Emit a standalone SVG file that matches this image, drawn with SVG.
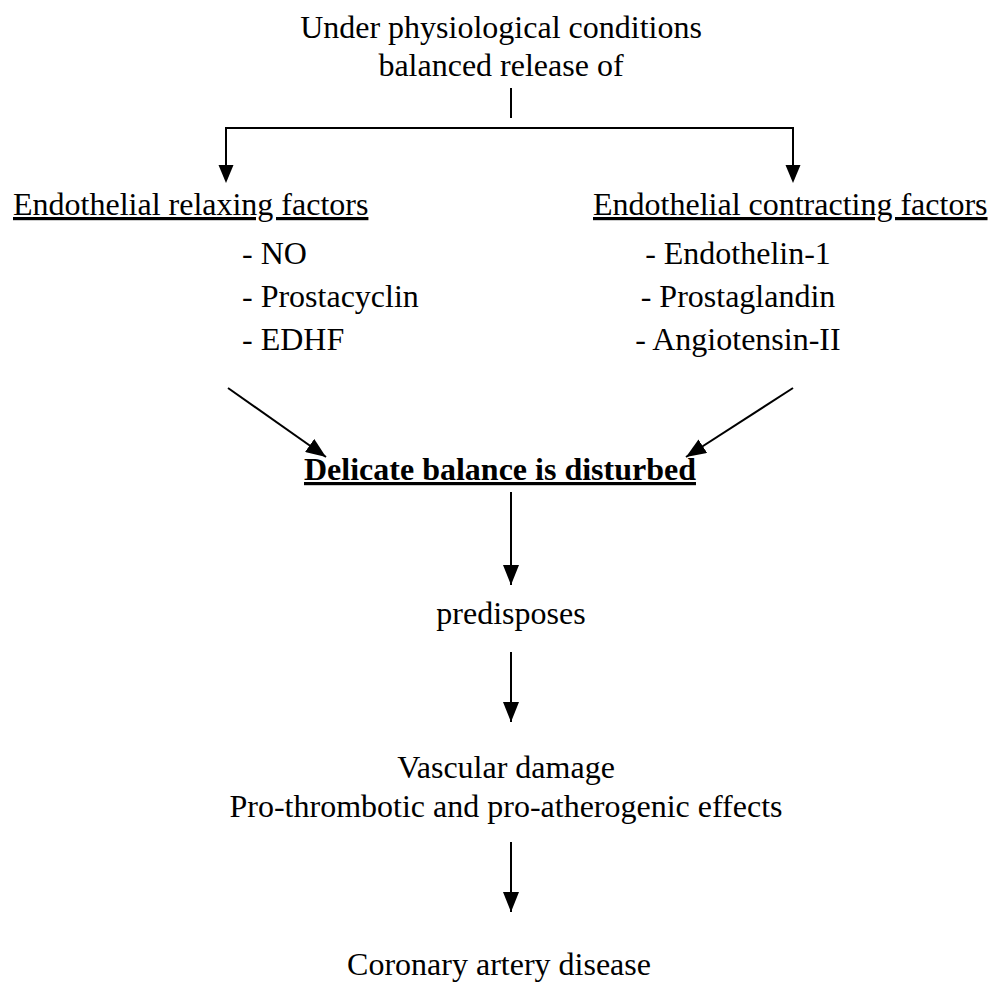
<svg xmlns="http://www.w3.org/2000/svg" width="992" height="989" viewBox="0 0 992 989">
<defs>
<style>
text{font-family:"Liberation Serif","Times New Roman",serif;font-size:32px;fill:#000}
.c{text-anchor:middle}
.u{text-decoration:underline}
.b{font-weight:bold}
.ln{stroke:#000;stroke-width:2;fill:none}
</style>
<marker id="ad" markerUnits="userSpaceOnUse" markerWidth="20" markerHeight="16" viewBox="0 0 20 16" refX="20" refY="8" orient="auto">
<path d="M0,0 L20,8 L0,16 Z" fill="#000"/>
</marker>
</defs>
<rect width="992" height="989" fill="#fff"/>
<g id="connectors">
<line class="ln" x1="511" y1="88" x2="511" y2="118"/>
<polyline class="ln" points="226,172 226,128 793,128 793,172"/>
<path d="M218.5,165 L233.5,165 L226,183 Z" fill="#000"/>
<path d="M785.5,165 L800.5,165 L793,183 Z" fill="#000"/>
<line class="ln" x1="228" y1="388" x2="326" y2="457" marker-end="url(#ad)"/>
<line class="ln" x1="793" y1="388" x2="686" y2="457" marker-end="url(#ad)"/>
<line class="ln" x1="511" y1="492" x2="511" y2="585" marker-end="url(#ad)"/>
<line class="ln" x1="511" y1="652" x2="511" y2="722" marker-end="url(#ad)"/>
<line class="ln" x1="511" y1="842" x2="511" y2="912" marker-end="url(#ad)"/>
</g>
<g id="top"><text class="c" x="501" y="38">Under physiological conditions</text><text class="c" x="501" y="76">balanced release of</text></g>
<g id="relaxing"><text class="u" x="13" y="215">Endothelial relaxing factors</text>
<text x="242" y="264">- NO</text><text x="242" y="307">- Prostacyclin</text><text x="242" y="350">- EDHF</text></g>
<g id="contracting"><text class="u" x="593" y="215">Endothelial contracting factors</text>
<text class="c" x="738" y="264">- Endothelin-1</text><text class="c" x="738" y="307">- Prostaglandin</text><text class="c" x="738" y="350">- Angiotensin-II</text></g>
<g id="balance"><text class="c u b" x="500" y="480">Delicate balance is disturbed</text></g>
<g id="predisposes"><text class="c" x="511" y="624">predisposes</text></g>
<g id="damage"><text class="c" x="506" y="778">Vascular damage</text><text class="c" x="506" y="817">Pro-thrombotic and pro-atherogenic effects</text></g>
<g id="cad"><text class="c" x="499" y="975">Coronary artery disease</text></g>
</svg>
